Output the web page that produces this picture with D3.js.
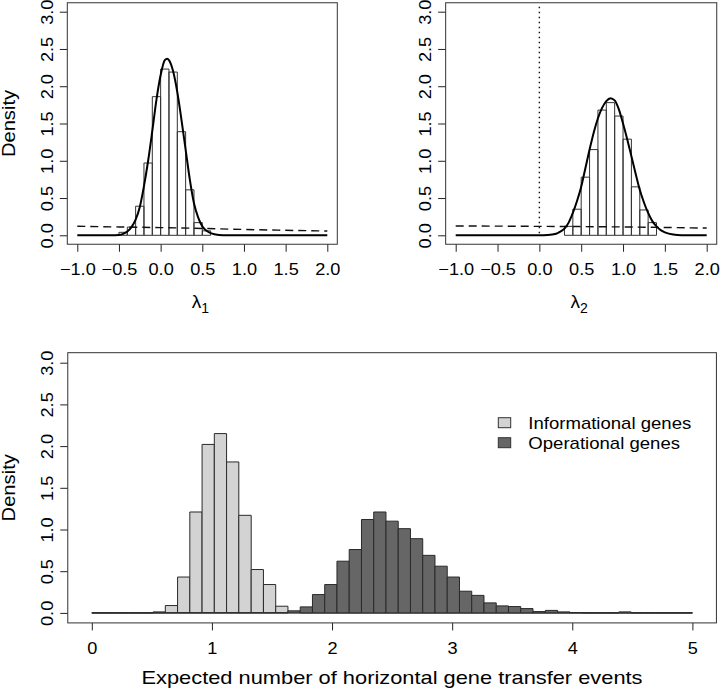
<!DOCTYPE html>
<html><head><meta charset="utf-8">
<script src="https://cdn.jsdelivr.net/npm/d3@7/dist/d3.min.js"></script>
<style>body{margin:0;background:#fff}svg{display:block}text{font-family:"Liberation Sans",Arial,Helvetica,sans-serif;fill:#000}</style>
</head><body><svg id="c" width="720" height="692"></svg>
<script>
// ---- data ----
const yTicks = [0, 0.5, 1.0, 1.5, 2.0, 2.5, 3.0];
const lambdaTicks = [-1.0, -0.5, 0.0, 0.5, 1.0, 1.5, 2.0];
const countTicks = [0, 1, 2, 3, 4, 5];

const lambda1Breaks = [-0.5, -0.4, -0.3, -0.2, -0.1, 0.0, 0.1, 0.2, 0.3, 0.4, 0.5, 0.6];
const lambda1Density = [0.04, 0.11, 0.39, 0.97, 1.86, 2.23, 2.19, 1.39, 0.61, 0.17, 0.06];
const lambda1CurveX = [-1.0, -0.6, -0.5, -0.45, -0.4, -0.35, -0.3, -0.25, -0.2, -0.15, -0.1, -0.05, 0.0, 0.05, 0.08, 0.1, 0.15, 0.2, 0.25, 0.3, 0.35, 0.4, 0.45, 0.5, 0.55, 0.6, 0.7, 0.8, 2.0];
const lambda1CurveY = [0, 0, 0.005, 0.02, 0.05, 0.11, 0.21, 0.38, 0.66, 1.0, 1.4, 1.82, 2.15, 2.35, 2.37, 2.35, 2.2, 1.92, 1.55, 1.15, 0.75, 0.43, 0.24, 0.12, 0.06, 0.03, 0.005, 0, 0];
const lambda1PriorX = [-1.0, -0.5, 0.0, 0.5, 1.0, 1.5, 2.0];
const lambda1PriorY = [0.121, 0.112, 0.103, 0.092, 0.078, 0.067, 0.058];

const lambda2Breaks = [0.3, 0.4, 0.5, 0.6, 0.7, 0.8, 0.9, 1.0, 1.1, 1.2, 1.3, 1.4];
const lambda2Density = [0.12, 0.35, 0.78, 1.15, 1.68, 1.78, 1.60, 1.29, 0.65, 0.34, 0.17];
const lambda2CurveX = [-1.0, 0.0, 0.1, 0.2, 0.25, 0.3, 0.35, 0.4, 0.45, 0.5, 0.55, 0.6, 0.65, 0.7, 0.75, 0.8, 0.85, 0.9, 0.95, 1.0, 1.05, 1.1, 1.15, 1.2, 1.25, 1.3, 1.35, 1.4, 1.45, 1.5, 1.6, 1.7, 2.0];
const lambda2CurveY = [0, 0, 0.003, 0.02, 0.05, 0.09, 0.17, 0.3, 0.46, 0.65, 0.9, 1.15, 1.38, 1.57, 1.71, 1.80, 1.84, 1.81, 1.69, 1.5, 1.29, 1.06, 0.83, 0.61, 0.44, 0.3, 0.19, 0.12, 0.07, 0.04, 0.01, 0.002, 0];
const lambda2PriorX = [-1.0, -0.5, 0.0, 0.5, 1.0, 1.5, 2.0];
const lambda2PriorY = [0.125, 0.123, 0.12, 0.117, 0.112, 0.105, 0.097];

const hgtBreaks = [0, 0.102, 0.204, 0.306, 0.408, 0.510, 0.612, 0.714, 0.816, 0.918, 1.020, 1.122, 1.224, 1.327, 1.429, 1.531, 1.633, 1.735, 1.837, 1.939, 2.041, 2.143, 2.245, 2.347, 2.449, 2.551, 2.653, 2.755, 2.857, 2.959, 3.061, 3.163, 3.265, 3.367, 3.469, 3.571, 3.673, 3.776, 3.878, 3.980, 4.082, 4.184, 4.286, 4.388, 4.490, 4.592, 4.694, 4.796, 4.898, 5.000];
const informational = [0, 0, 0, 0, 0, 0.012, 0.088, 0.43, 1.21, 2.02, 2.15, 1.81, 1.17, 0.52, 0.34, 0.08, 0.01, 0, 0, 0, 0, 0, 0, 0, 0, 0, 0, 0, 0, 0, 0, 0, 0, 0, 0, 0, 0, 0, 0, 0, 0, 0, 0, 0, 0, 0, 0, 0, 0];
const operational = [0, 0, 0, 0, 0, 0, 0, 0, 0, 0, 0, 0, 0, 0, 0, 0, 0.025, 0.072, 0.22, 0.34, 0.62, 0.76, 1.12, 1.21, 1.10, 1.01, 0.89, 0.69, 0.56, 0.43, 0.26, 0.21, 0.12, 0.084, 0.076, 0.052, 0.016, 0.03, 0.012, 0.004, 0, 0, 0, 0.012, 0, 0, 0, 0, 0];
const legendLabels = ["Informational genes", "Operational genes"];
const fills = ["#d3d3d3", "#666666"];

// ---- drawing ----
const svg = d3.select("#c");
const FONT = 16.5, SX = 1.1;
function stretch(sel, f) {
  sel.each(function () {
    const w = this.getComputedTextLength();
    this.setAttribute("textLength", w * f);
    this.setAttribute("lengthAdjust", "spacingAndGlyphs");
  });
}

function panel(opt) {
  const x = d3.scaleLinear().domain(opt.xd).range(opt.xr);
  const y = d3.scaleLinear().domain([0, 3]).range(opt.yr);
  const g = svg.append("g");
  const ex = (opt.xr[1] - opt.xr[0]) * 0.04, ey = (opt.yr[0] - opt.yr[1]) * 0.04;
  const bx0 = opt.xr[0] - ex, bx1 = opt.xr[1] + ex, by0 = opt.yr[1] - ey, by1 = opt.yr[0] + ey;
  const xa = g.append("g").attr("transform", `translate(0,${by1})`)
    .call(d3.axisBottom(x).tickValues(opt.xt).tickSize(7.5).tickSizeOuter(0).tickFormat(opt.xf));
  xa.select(".domain").remove();
  xa.selectAll("line").attr("stroke", "#222");
  xa.selectAll("text").attr("font-size", FONT).attr("dy", null).attr("y", opt.xlabY - by1).call(stretch, SX);
  const ya = g.append("g").attr("transform", `translate(${bx0},0)`)
    .call(d3.axisLeft(y).tickValues(yTicks).tickSize(7.5).tickSizeOuter(0).tickFormat(d3.format(".1f")));
  ya.select(".domain").remove();
  ya.selectAll("line").attr("stroke", "#222");
  ya.selectAll("text").attr("font-size", FONT).attr("x", null).attr("dy", null)
    .attr("text-anchor", "middle")
    .attr("transform", `translate(${52.5 - bx0 + (opt.yOff || 0)},0) rotate(-90)`).call(stretch, SX);
  g.append("rect").attr("x", bx0).attr("y", by0).attr("width", bx1 - bx0).attr("height", by1 - by0)
    .attr("fill", "none").attr("stroke", "#333").attr("stroke-width", 1);
  return { x, y, g, bx0, bx1, by0, by1 };
}

function barPath(x, y, a, b, h) {
  return `M${x(a)},${y(0)}V${y(h)}H${x(b)}V${y(0)}Z`;
}

function lambdaPanel(opt) {
  const p = panel({ xd: [-1, 2], xr: opt.xr, yr: [235.3, 11.7], xt: lambdaTicks, xf: d3.format(".1f"), xlabY: 275.5, yOff: opt.yOff });
  const { x, y, g } = p;
  g.append("g").selectAll("path").data(opt.dens).join("path")
    .attr("d", (d, i) => barPath(x, y, opt.breaks[i], opt.breaks[i + 1], d))
    .attr("fill", "none").attr("stroke", "#333").attr("stroke-width", 1);
  if (opt.dotted) {
    g.append("line").attr("x1", x(0)).attr("x2", x(0)).attr("y1", p.by0 + 4).attr("y2", y(0))
      .attr("stroke", "#111").attr("stroke-width", 1.4).attr("stroke-dasharray", "1.4,3.6");
  }
  const line = d3.line().x(d => x(d[0])).y(d => y(d[1])).curve(d3.curveMonotoneX);
  g.append("path").attr("d", line(d3.zip(opt.px, opt.py))).attr("fill", "none")
    .attr("stroke", "#111").attr("stroke-width", 1.4).attr("stroke-dasharray", "8,5");
  g.append("path").attr("d", line(d3.zip(opt.cx, opt.cy))).attr("fill", "none")
    .attr("stroke", "#000").attr("stroke-width", 2);
  const cx = (p.bx0 + p.bx1) / 2;
  const t = g.append("text").attr("x", cx - 2).attr("y", 307.5).attr("text-anchor", "middle").attr("font-size", 19);
  t.append("tspan").text("λ");
  t.append("tspan").attr("font-size", 14).attr("dy", 5).text(opt.sub);
  return p;
}

lambdaPanel({ xr: [77.3, 327.3], breaks: lambda1Breaks, dens: lambda1Density, cx: lambda1CurveX, cy: lambda1CurveY, px: lambda1PriorX, py: lambda1PriorY, sub: "1" });
lambdaPanel({ xr: [455.7, 706.7], breaks: lambda2Breaks, dens: lambda2Density, cx: lambda2CurveX, cy: lambda2CurveY, px: lambda2PriorX, py: lambda2PriorY, sub: "2", dotted: true, yOff: 445.6 - 67.3 });

[123.5, 487.8].forEach(cy => {
  svg.append("text").attr("transform", `translate(14.5,${cy}) rotate(-90)`).attr("text-anchor", "middle")
    .attr("font-size", 18).text("Density").call(stretch, 1.12);
});

const bp = panel({ xd: [0, 5], xr: [91.8, 692.4], yr: [612.9, 362.7], xt: countTicks, xf: d3.format("d"), xlabY: 654 });
[informational, operational].forEach((arr, s) => {
  bp.g.append("g").selectAll("path").data(arr).join("path")
    .attr("d", (d, i) => barPath(bp.x, bp.y, hgtBreaks[i], hgtBreaks[i + 1], d))
    .attr("fill", fills[s]).attr("stroke", "#2a2a2a").attr("stroke-width", 1);
});
svg.append("text").attr("x", 392).attr("y", 684).attr("text-anchor", "middle").attr("font-size", 19)
  .attr("textLength", 501).attr("lengthAdjust", "spacingAndGlyphs")
  .text("Expected number of horizontal gene transfer events");

const lg = svg.append("g");
legendLabels.forEach((lab, i) => {
  const cy = 422.7 + i * 20;
  lg.append("rect").attr("x", 498.3).attr("y", cy - 5).attr("width", 12.4).attr("height", 10)
    .attr("fill", fills[i]).attr("stroke", "#333").attr("stroke-width", 1);
  lg.append("text").attr("x", 528.3).attr("y", cy + 6.1).attr("font-size", 17)
    .attr("textLength", i === 0 ? 163 : 151.7).attr("lengthAdjust", "spacingAndGlyphs").text(lab);
});
</script></body></html>
